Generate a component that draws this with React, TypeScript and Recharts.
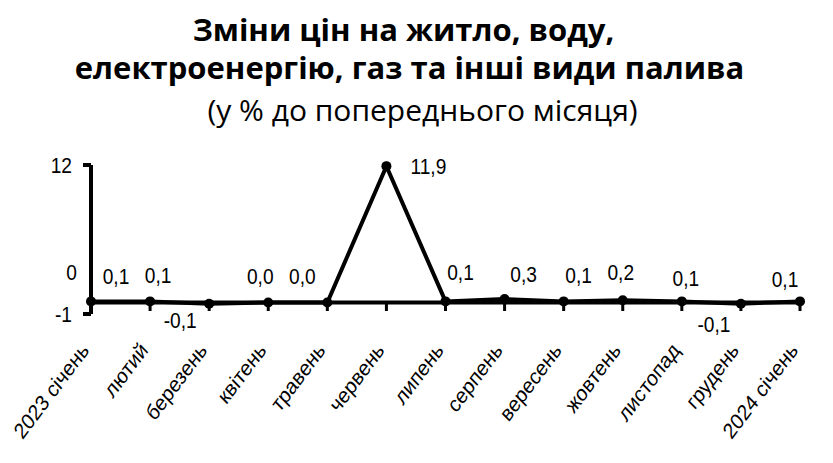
import React from "react";
import { LineChart, Line, XAxis, YAxis, ReferenceLine, LabelList } from "recharts";

const months = [
  "2023 січень",
  "лютий",
  "березень",
  "квітень",
  "травень",
  "червень",
  "липень",
  "серпень",
  "вересень",
  "жовтень",
  "листопад",
  "грудень",
  "2024 січень",
];
const priceChange = [0.1, 0.1, -0.1, 0.0, 0.0, 11.9, 0.1, 0.3, 0.1, 0.2, 0.1, -0.1, 0.1];
const yTicks = [-1, 0, 12];

const data = months.map((month, i) => ({ month, value: priceChange[i] }));

// labels were hand-placed in the original, so nudge each one (dx, dy from the point)
const labelNudge: [number, number][] = [
  [25, -25],
  [8, -26],
  [-29, 16],
  [-8, -27],
  [-25, -27],
  [42, 0],
  [15, -29],
  [19, -25],
  [15, -26],
  [-2, -28],
  [4, -23],
  [-27, 20],
  [-15, -22],
];

const labelFont = "'Liberation Sans', Arial, sans-serif";
const SQUEEZE = 0.87; // source picture is slightly narrowed horizontally

const fmt = (v: number) => v.toFixed(1).replace(".", ",");

const PointLabel = (props: any) => {
  const { x, y, value, index } = props;
  const [dx, dy] = labelNudge[index] || [0, -20];
  return (
    <text
      transform={`translate(${x + dx},${y + dy + 8}) scale(${SQUEEZE},1)`}
      textAnchor="middle"
      fontSize={22}
      fontFamily={labelFont}
      fill="#000"
    >
      {fmt(value)}
    </text>
  );
};

const YTick = (props: any) => {
  const { x, y, payload } = props;
  if (payload.value === 0) {
    // the zero label sits well above its line in the original
    return (
      <text
        transform={`translate(${x - 14},${y - 23}) scale(${SQUEEZE},1)`}
        textAnchor="end"
        fontSize={22}
        fontFamily={labelFont}
        fill="#000"
      >
        0
      </text>
    );
  }
  return (
    <g>
      <line x1={x - 8} y1={y} x2={x} y2={y} stroke="#000" strokeWidth={4} />
      <text
        transform={`translate(${x - 19},${y + 8}) scale(${SQUEEZE},1)`}
        textAnchor="end"
        fontSize={22}
        fontFamily={labelFont}
        fill="#000"
      >
        {payload.value}
      </text>
    </g>
  );
};

const XTick = (props: any) => {
  const { x, y, payload } = props;
  return (
    <g>
      <line x1={x} y1={y - 12} x2={x} y2={y - 3} stroke="#000" strokeWidth={3} />
      <text
        transform={`translate(${x - 1},${y + 37}) scale(${SQUEEZE},1) rotate(-49)`}
        textAnchor="end"
        fontSize={22}
        fontFamily={labelFont}
        fill="#000"
      >
        {payload.value}
      </text>
    </g>
  );
};

const titleLine: React.CSSProperties = {
  position: "absolute",
  left: 0,
  width: 833,
  textAlign: "center",
  fontFamily: "'Open Sans', sans-serif",
  color: "#000",
  whiteSpace: "nowrap",
  lineHeight: 1,
};

export default function App() {
  return (
    <div style={{ position: "relative", width: 833, height: 463, background: "#fff" }}>
      <style>{`body{margin:0}`}</style>
      <div style={{ ...titleLine, top: 14, fontSize: 31, fontWeight: 700, left: -13 }}>
        Зміни цін на житло, воду,
      </div>
      <div style={{ ...titleLine, top: 52, fontSize: 31, fontWeight: 700, left: -7 }}>
        електроенергію, газ та інші види палива
      </div>
      <div style={{ ...titleLine, top: 95, fontSize: 30, left: 6 }}>
        (у % до попереднього місяця)
      </div>
      <div style={{ position: "absolute", left: 0, top: 0 }}>
        <LineChart width={833} height={463} data={data} margin={{ top: 165, right: 33, bottom: 0, left: 31 }}>
          <XAxis
            dataKey="month"
            scale="point"
            padding={{ left: 0, right: 0 }}
            axisLine={false}
            tickLine={false}
            tickSize={0}
            tickMargin={0}
            height={149}
            interval={0}
            tick={<XTick />}
          />
          <YAxis
            domain={[-1, 12]}
            ticks={yTicks}
            width={60}
            axisLine={{ stroke: "#000", strokeWidth: 4 }}
            tickLine={false}
            tickSize={0}
            tickMargin={0}
            interval={0}
            tick={<YTick />}
          />
          <ReferenceLine y={0} stroke="#000" strokeWidth={4} />
          <Line
            type="linear"
            dataKey="value"
            stroke="#000"
            strokeWidth={4}
            dot={{ r: 5, fill: "#000", stroke: "#000", strokeWidth: 0 }}
            isAnimationActive={false}
          >
            <LabelList dataKey="value" content={<PointLabel />} />
          </Line>
        </LineChart>
      </div>
    </div>
  );
}
